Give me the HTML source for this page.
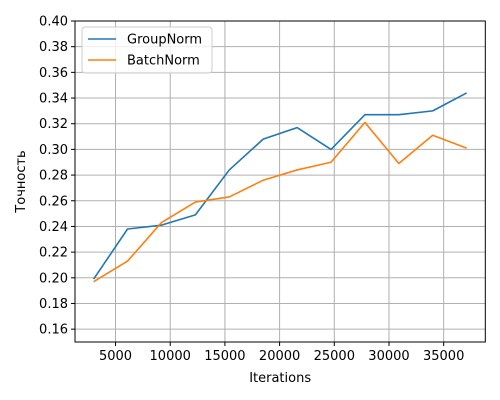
<!DOCTYPE html>
<html><head><meta charset="utf-8"><style>
body{margin:0;background:#fff;}
svg{display:block;font-family:"DejaVu Sans","Liberation Sans",sans-serif;}
</style></head><body>
<svg id="chart" width="500" height="400"></svg>
<script>
const iterations=[3000,6100,9200,12300,15400,18500,21600,24700,27800,30900,34000,37100];
const groupNorm=[0.199,0.238,0.241,0.249,0.284,0.308,0.317,0.300,0.327,0.327,0.330,0.344];
const batchNorm=[0.197,0.213,0.243,0.259,0.263,0.276,0.284,0.290,0.321,0.289,0.311,0.301];
const xTicks=[5000,10000,15000,20000,25000,30000,35000];
const yTicks=[0.16,0.18,0.20,0.22,0.24,0.26,0.28,0.30,0.32,0.34,0.36,0.38,0.40];
const L=75,R=485.3,T=21,B=342,xmin=1295,xmax=38805,ymin=0.15,ymax=0.40;
const sx=v=>L+(v-xmin)/(xmax-xmin)*(R-L);
const sy=v=>B-(v-ymin)/(ymax-ymin)*(B-T);
const svg=document.getElementById('chart');
const NS='http://www.w3.org/2000/svg';
function mk(t,a,p){const e=document.createElementNS(NS,t);for(const k in a)e.setAttribute(k,a[k]);(p||svg).appendChild(e);return e;}
const grid=mk('g',{});


xTicks.forEach(v=>{const x=sx(v);
mk('line',{x1:x,x2:x,y1:T,y2:B,stroke:'#b0b0b0','stroke-width':1},grid);
mk('line',{x1:x,x2:x,y1:B,y2:B+4,stroke:'#000','stroke-width':1});
const t=mk('text',{x:x,y:B+18,'text-anchor':'middle','font-size':13,fill:'#000'});t.textContent=v;

});
yTicks.forEach(v=>{const y=sy(v);
mk('line',{x1:L,x2:R,y1:y,y2:y,stroke:'#b0b0b0','stroke-width':1},grid);
mk('line',{x1:L-4,x2:L,y1:y,y2:y,stroke:'#000','stroke-width':1});
const t=mk('text',{x:L-7,y:y+4.5,'text-anchor':'end','font-size':13,fill:'#000'});t.textContent=v.toFixed(2);

});
function series(d,c,n){const p=mk('polyline',{points:d.map((v,i)=>sx(iterations[i])+','+sy(v)).join(' '),fill:'none',stroke:c,'stroke-width':1.6,'stroke-linejoin':'round'});

}
series(groupNorm,'#1f77b4','groupnorm-line');
series(batchNorm,'#ff7f0e','batchnorm-line');
const fr=mk('rect',{x:L,y:T,width:R-L,height:B-T,fill:'none',stroke:'#000','stroke-width':1});


const xl=mk('text',{x:(L+R)/2,y:382,'text-anchor':'middle','font-size':13});xl.textContent='Iterations';


const yl=mk('text',{x:0,y:0,'text-anchor':'middle','font-size':13,transform:'translate(25,'+((T+B)/2)+') rotate(-90)'});yl.textContent='Точность';


const lg=mk('g',{});


mk('rect',{x:82,y:27,width:130,height:46,rx:3,fill:'#fff','fill-opacity':0.8,stroke:'#ccc'},lg);
[['GroupNorm','#1f77b4',39],['BatchNorm','#ff7f0e',60]].forEach(([n,c,y])=>{
mk('line',{x1:88,x2:116,y1:y,y2:y,stroke:c,'stroke-width':1.6},lg);
const t=mk('text',{x:127,y:y+4.5,'font-size':13},lg);t.textContent=n;

});
</script>
</body></html>
